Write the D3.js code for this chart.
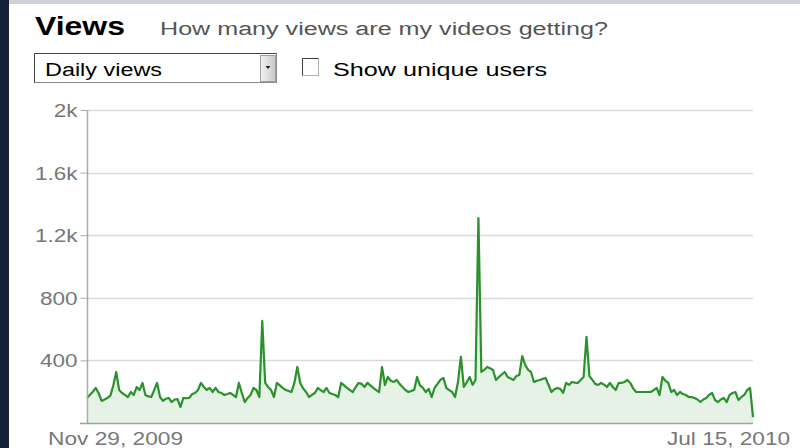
<!DOCTYPE html>
<html><head><meta charset="utf-8">
<script src="https://cdn.jsdelivr.net/npm/d3@7"></script>
<style>html,body{margin:0;padding:0;background:#fff;overflow:hidden}svg{display:block}</style>
</head><body>
<svg id="chart" width="800" height="448"></svg>
<script>
const startDate = "2009-11-29";
const endDate = "2010-07-15";
const yTicks = [400, 800, 1200, 1600, 2000];
const yTickLabels = ["400", "800", "1.2k", "1.6k", "2k"];
const xLabels = ["Nov 29, 2009", "Jul 15, 2010"];
const views = [
160,180,200,224,190,141,150,160,175,240,
326,211,192,180,166,198,179,230,211,256,
179,170,166,210,256,166,141,155,160,134,
150,153,102,160,158,160,185,192,211,256,
230,211,224,198,224,198,192,179,185,192,
180,166,256,192,134,160,179,224,211,166,
652,256,230,211,166,256,240,224,211,205,
198,256,358,256,220,198,166,180,192,224,
210,198,224,192,185,179,166,256,240,224,
210,198,230,256,250,230,256,240,224,210,
198,358,243,294,270,262,275,250,230,211,
198,205,211,294,240,224,198,218,166,224,
250,275,288,224,210,198,166,262,422,230,
260,294,243,275,1310,326,340,358,350,339,
275,294,310,326,294,285,275,300,307,428,
371,340,326,262,270,275,282,288,243,198,
215,224,218,192,256,243,262,258,256,275,
294,550,300,275,250,243,256,245,230,256,
230,211,256,256,262,275,256,220,198,198,
198,198,198,198,210,224,179,294,270,256,
198,211,179,198,185,179,166,165,160,150,
134,150,160,180,192,147,134,150,160,134,
180,192,198,147,165,179,211,224,38
];

const parse = d3.timeParse("%Y-%m-%d");
const t0 = parse(startDate), t1 = parse(endDate);
const data = views.map((v, i) => ({ date: d3.timeDay.offset(t0, i), v }));

const svg = d3.select("#chart");
const FONT = "'Liberation Sans', Arial, sans-serif";

// page chrome
svg.append("rect").attr("x", 0).attr("y", 0).attr("width", 800).attr("height", 4).attr("fill", "#cdd2d9");
svg.append("rect").attr("x", 0).attr("y", 0).attr("width", 9).attr("height", 448).attr("fill", "#172039");

function stretchText(sel, target) {
  sel.attr("textLength", target).attr("lengthAdjust", "spacingAndGlyphs");
}

// header
stretchText(svg.append("text").attr("x", 35).attr("y", 35).attr("font-family", FONT)
  .attr("font-size", 25).attr("font-weight", "bold").attr("fill", "#000").text("Views"), 90);
stretchText(svg.append("text").attr("x", 160).attr("y", 35).attr("font-family", FONT)
  .attr("font-size", 18).attr("fill", "#555").text("How many views are my videos getting?"), 448);

// dropdown
svg.append("rect").attr("x", 34.5).attr("y", 53.5).attr("width", 242).attr("height", 29)
  .attr("fill", "#fff").attr("stroke", "#8a8a8a");
svg.append("path").attr("d", "M34.5,82.5 V53.5 H276.5").attr("fill", "none").attr("stroke", "#444");
const grad = svg.append("defs").append("linearGradient").attr("id", "btn").attr("x1", 0).attr("x2", 1);
grad.append("stop").attr("offset", 0).attr("stop-color", "#f2f2f2");
grad.append("stop").attr("offset", 1).attr("stop-color", "#c8c8c8");
svg.append("rect").attr("x", 260.5).attr("y", 55.5).attr("width", 15).attr("height", 26)
  .attr("fill", "url(#btn)").attr("stroke", "#a0a0a0");
svg.append("path").attr("d", "M265.5,66 h5 l-2.5,3 z").attr("fill", "#222");
stretchText(svg.append("text").attr("x", 45).attr("y", 76).attr("font-family", FONT)
  .attr("font-size", 18).attr("fill", "#000").text("Daily views"), 117);

// checkbox
svg.append("rect").attr("x", 302.5).attr("y", 58.5).attr("width", 16).attr("height", 17)
  .attr("fill", "#fff").attr("stroke", "#b0b0b0");
svg.append("path").attr("d", "M302.5,75.5 V58.5 H318.5").attr("fill", "none").attr("stroke", "#404040");
stretchText(svg.append("text").attr("x", 333).attr("y", 76).attr("font-family", FONT)
  .attr("font-size", 18).attr("fill", "#000").text("Show unique users"), 214);

// scales
const x = d3.scaleTime().domain([t0, t1]).range([87, 753]);
const y = d3.scaleLinear().domain([0, 2000]).range([423, 110]);

// gridlines
svg.append("g").selectAll("line").data(yTicks).join("line")
  .attr("x1", 87).attr("x2", 753)
  .attr("y1", d => Math.round(y(d)) + 0.5).attr("y2", d => Math.round(y(d)) + 0.5)
  .attr("stroke", "#dadada").attr("stroke-width", 1.5);

// area + line
const area = d3.area().x(d => x(d.date)).y0(y(0)).y1(d => y(d.v));
const line = d3.line().x(d => x(d.date)).y(d => y(d.v));
svg.append("path").datum(data).attr("d", area).attr("fill", "#e7f2e7");
svg.append("path").datum(data).attr("d", line).attr("fill", "none")
  .attr("stroke", "#2a922a").attr("stroke-width", 2.2).attr("stroke-linejoin", "round");

// y axis
const yAxis = d3.axisLeft(y).tickValues(yTicks).tickSize(7)
  .tickFormat((d, i) => yTickLabels[i]);
const gy = svg.append("g").attr("transform", "translate(87.5,0)").call(yAxis);
gy.select(".domain").attr("d", "M0," + y(2000) + "V" + y(0)).attr("stroke", "#aaa").attr("stroke-width", 1.5);
gy.selectAll(".tick line").attr("stroke", "#aaa");
gy.selectAll(".tick text").attr("font-family", FONT).attr("font-size", 18).attr("fill", "#777")
  .attr("x", -10).attr("dy", "0.36em")
  .each(function () { const w = this.getComputedTextLength(); d3.select(this).attr("textLength", w * 1.25).attr("lengthAdjust", "spacingAndGlyphs"); });

// baseline
svg.append("line").attr("x1", 80).attr("x2", 753).attr("y1", Math.round(y(0)) + 0.5).attr("y2", Math.round(y(0)) + 0.5)
  .attr("stroke", "#a0a0a0").attr("stroke-width", 1.5);

// x labels
stretchText(svg.append("text").attr("x", x(t0) - 39).attr("y", 445).attr("font-family", FONT)
  .attr("font-size", 18).attr("fill", "#777").text(xLabels[0]), 135);
stretchText(svg.append("text").attr("x", x(t1) + 37).attr("y", 445).attr("text-anchor", "end").attr("font-family", FONT)
  .attr("font-size", 18).attr("fill", "#777").text(xLabels[1]), 123);
</script>
</body></html>
